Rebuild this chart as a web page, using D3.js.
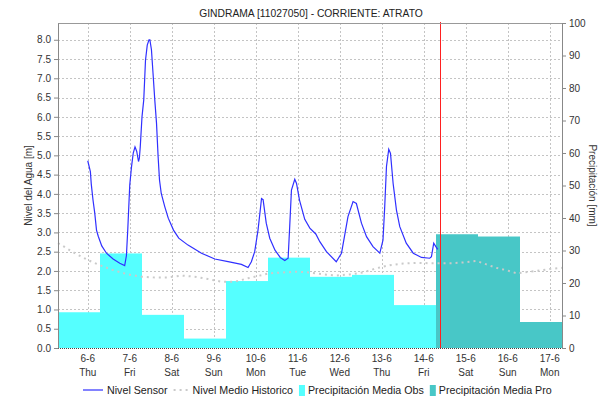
<!DOCTYPE html>
<html>
<head>
<meta charset="utf-8">
<script src="https://cdn.jsdelivr.net/npm/d3@7"></script>
<style>
  body { margin: 0; background: #fff; }
  svg { font-family: "Liberation Sans", Arial, sans-serif; }
  .tick text { fill: #333; }
</style>
</head>
<body>
<div id="chart"></div>
<script>
// water level sensor, hours after 2024-06-06 00:00 and metres
const sensorHours = [0, 1.5, 2, 3, 4, 5, 6, 8, 10.7, 14.5, 18.3, 21.1, 22.1, 22.9, 24, 25, 26, 27, 28, 29, 29.5, 30, 31, 32, 33, 34, 35, 35.5, 36.4, 37.3, 38.3, 39.3, 40.2, 41, 42, 44, 46, 49, 52, 57.3, 65, 72.6, 80.2, 87.8, 91.6, 93.5, 95.4, 97.3, 99.3, 100.2, 102, 104, 107, 110, 112.6, 114.5, 115.4, 116.4, 118.3, 119.3, 121, 124, 126.9, 130.3, 132.6, 136.4, 142, 145, 148.7, 151.6, 153.5, 156.4, 159.3, 163, 166.9, 168.7, 169.7, 170.7, 172, 173, 174.5, 176.4, 178.3, 182, 186, 190.7, 195.4, 196.4, 197.7, 198.9, 200];
const sensorLevel = [4.86, 4.58, 4.26, 3.84, 3.5, 3.06, 2.9, 2.65, 2.46, 2.31, 2.2, 2.14, 2.4, 3.1, 4.23, 4.7, 5.06, 5.22, 5.1, 4.84, 4.93, 5.22, 6.0, 6.44, 7.47, 7.86, 8.0, 8.0, 7.74, 7.13, 6.44, 5.83, 4.97, 4.36, 4.01, 3.67, 3.37, 3.06, 2.85, 2.67, 2.46, 2.31, 2.24, 2.17, 2.09, 2.24, 2.5, 3.06, 3.88, 3.85, 3.24, 2.85, 2.54, 2.35, 2.27, 2.33, 3.15, 4.1, 4.38, 4.27, 3.84, 3.34, 3.11, 2.96, 2.76, 2.5, 2.24, 2.46, 3.41, 3.8, 3.75, 3.24, 2.89, 2.63, 2.46, 2.8, 3.67, 4.71, 5.16, 5.05, 4.27, 3.58, 3.15, 2.72, 2.46, 2.35, 2.33, 2.37, 2.72, 2.63, 2.56];

// historic mean level
const histHours = [-17, -15, -7.4, 0.2, 6.9, 14.5, 23, 30.7, 38.3, 45.9, 53.5, 61.1, 68.7, 76.4, 84, 91.6, 95.4, 104, 111.6, 119.3, 126.9, 134.5, 142.1, 149.7, 157.3, 165, 172.6, 180.2, 187.8, 195.4, 202.9, 206.9, 214.5, 222.1, 227.8, 233.5, 239.3, 245, 248.7, 256.4, 264, 271];
const histLevel = [2.72, 2.67, 2.46, 2.28, 2.15, 2.02, 1.91, 1.85, 1.83, 1.83, 1.88, 1.85, 1.79, 1.72, 1.72, 1.81, 1.85, 1.94, 1.96, 1.98, 1.96, 1.91, 1.88, 1.91, 1.96, 2.07, 2.15, 2.19, 2.21, 2.2, 2.2, 2.2, 2.22, 2.26, 2.17, 2.08, 2.02, 1.94, 1.96, 2.0, 2.05, 2.08];

// daily precipitation (7:00 to 7:00), mm
const obsDays = ['2024-06-05', '2024-06-06', '2024-06-07', '2024-06-08', '2024-06-09', '2024-06-10', '2024-06-11', '2024-06-12', '2024-06-13'];
const precipObs = [11.0, 29.1, 10.2, 2.9, 20.6, 27.8, 21.9, 22.5, 13.2];
const proDays = ['2024-06-14', '2024-06-15', '2024-06-16'];
const precipPro = [35.0, 34.3, 8.0];

const nowTime = '2024-06-14T09:00';
const levelTicks = d3.range(0, 8.01, 0.5);
const rainTicks = d3.range(0, 101, 10);

const title = 'GINDRAMA [11027050] - CORRIENTE: ATRATO';
const legendNames = ['Nivel Sensor', 'Nivel Medio Historico', 'Precipitación Media Obs', 'Precipitación Media Pro'];

const width = 604, height = 405;
const margin = {top: 23, right: 42, bottom: 57, left: 58};
const innerW = width - margin.left - margin.right;
const innerH = height - margin.top - margin.bottom;

const base = Date.UTC(2024, 5, 6, 0, 0);
const hourDate = h => new Date(base + h * 3600000);
const dayStart = s => new Date(s + 'T07:00:00Z');

const x = d3.scaleUtc()
  .domain([new Date('2024-06-05T07:00:00Z'), new Date('2024-06-17T07:00:00Z')])
  .range([0, innerW]);
const yLevel = d3.scaleLinear().domain([0, innerH / 38.53]).range([innerH, 0]);
const yRain = d3.scaleLinear().domain([0, 100]).range([innerH, 0]);

const svg = d3.select('#chart').append('svg')
  .attr('width', width).attr('height', height);

svg.append('text')
  .attr('x', 311).attr('y', 17)
  .attr('text-anchor', 'middle')
  .style('font-size', '10.3px')
  .attr('fill', '#222')
  .text(title);

const g = svg.append('g').attr('transform', `translate(${margin.left},${margin.top})`);

// grid
const days = d3.utcDay.range(new Date('2024-06-06T00:00:00Z'), new Date('2024-06-17T07:00:00Z'));
g.append('g').selectAll('line').data(levelTicks.slice(1)).join('line')
  .attr('x1', 0).attr('x2', innerW)
  .attr('y1', d => Math.round(yLevel(d)) + 0.5).attr('y2', d => Math.round(yLevel(d)) + 0.5)
  .attr('stroke', '#c4c4c4').attr('stroke-dasharray', '2,2');
g.append('g').selectAll('line').data(days).join('line')
  .attr('x1', d => Math.round(x(d)) + 0.5).attr('x2', d => Math.round(x(d)) + 0.5)
  .attr('y1', 0).attr('y2', innerH)
  .attr('stroke', '#c4c4c4').attr('stroke-dasharray', '2,2');

// precipitation bars
const dayW = x(new Date('2024-06-06T07:00:00Z')) - x(new Date('2024-06-05T07:00:00Z'));
g.append('g').selectAll('rect').data(precipObs).join('rect')
  .attr('x', (d, i) => x(dayStart(obsDays[i])))
  .attr('width', dayW)
  .attr('y', d => yRain(d))
  .attr('height', d => innerH - yRain(d))
  .attr('fill', '#55ffff');
g.append('g').selectAll('rect').data(precipPro).join('rect')
  .attr('x', (d, i) => x(dayStart(proDays[i])))
  .attr('width', dayW)
  .attr('y', d => yRain(d))
  .attr('height', d => innerH - yRain(d))
  .attr('fill', '#48c7c7');

// historic line
g.append('path')
  .datum(histHours.map((h, i) => [hourDate(h), histLevel[i]]))
  .attr('fill', 'none')
  .attr('stroke', '#cacaca')
  .attr('stroke-width', 2)
  .attr('stroke-dasharray', '2,4')
  .attr('d', d3.line().x(d => x(d[0])).y(d => yLevel(d[1])));

// sensor line
g.append('path')
  .datum(sensorHours.map((h, i) => [hourDate(h), sensorLevel[i]]))
  .attr('fill', 'none')
  .attr('stroke', '#3030ff')
  .attr('stroke-width', 1.2)
  .attr('d', d3.line().x(d => x(d[0])).y(d => yLevel(d[1])));

// now marker
const nowX = Math.round(x(new Date(nowTime + ':00Z'))) + 0.5;
g.append('line')
  .attr('x1', nowX).attr('x2', nowX).attr('y1', -1).attr('y2', innerH)
  .attr('stroke', '#ff2020').attr('stroke-width', 1);

// plot frame
g.append('line').attr('x1', 0).attr('x2', innerW).attr('y1', 0.5).attr('y2', 0.5).attr('stroke', '#999');
g.append('line').attr('x1', 0).attr('x2', innerW).attr('y1', innerH + 0.5).attr('y2', innerH + 0.5)
  .attr('stroke', '#444').attr('stroke-dasharray', '1,1');

// left axis
const leftAxis = g.append('g')
  .call(d3.axisLeft(yLevel).tickValues(levelTicks).tickFormat(d3.format('.1f')).tickSize(4).tickSizeOuter(0));
leftAxis.selectAll('text').style('font-size', '10px');
leftAxis.selectAll('path, line').attr('stroke', '#888');

// right axis
const rightAxis = g.append('g')
  .attr('transform', `translate(${innerW},0)`)
  .call(d3.axisRight(yRain).tickValues(rainTicks).tickSize(4).tickSizeOuter(0));
rightAxis.selectAll('text').style('font-size', '10px');
rightAxis.selectAll('path, line').attr('stroke', '#888');

// x labels
const xLab = g.append('g').selectAll('text').data(days).join('text')
  .attr('text-anchor', 'middle')
  .attr('fill', '#333')
  .style('font-size', '10px')
  .attr('transform', d => `translate(${x(d)},${innerH})`);
xLab.append('tspan').attr('x', 0).attr('y', 14).text(d3.utcFormat('%-d-%-m'));
xLab.append('tspan').attr('x', 0).attr('y', 28).text(d3.utcFormat('%a'));

// axis titles
svg.append('text')
  .attr('transform', `translate(32,${margin.top + innerH / 2}) rotate(-90)`)
  .attr('text-anchor', 'middle')
  .style('font-size', '10px').attr('fill', '#333')
  .text('Nivel del Agua [m]');
svg.append('text')
  .attr('transform', `translate(589,${margin.top + innerH / 2}) rotate(90)`)
  .attr('text-anchor', 'middle')
  .style('font-size', '10px').attr('fill', '#333')
  .text('Precipitación [mm]');

// legend
const legend = svg.append('g').attr('transform', 'translate(0,390)');
let lx = 83;
legendNames.forEach((name, i) => {
  if (i === 0) {
    legend.append('line').attr('x1', lx).attr('x2', lx + 20).attr('y1', 0).attr('y2', 0)
      .attr('stroke', '#3030ff').attr('stroke-width', 1.2);
    lx += 24;
  } else if (i === 1) {
    legend.append('line').attr('x1', lx).attr('x2', lx + 16).attr('y1', 0).attr('y2', 0)
      .attr('stroke', '#cacaca').attr('stroke-width', 2).attr('stroke-dasharray', '2,4');
    lx += 19;
  } else {
    legend.append('rect').attr('x', lx).attr('y', -5).attr('width', 6).attr('height', 11)
      .attr('fill', i === 2 ? '#55ffff' : '#48c7c7');
    lx += 9;
  }
  const t = legend.append('text').attr('x', lx).attr('y', 4)
    .style('font-size', '10.7px').attr('fill', '#222').text(name);
  lx += t.node().getComputedTextLength() + 6;
});
</script>
</body>
</html>
